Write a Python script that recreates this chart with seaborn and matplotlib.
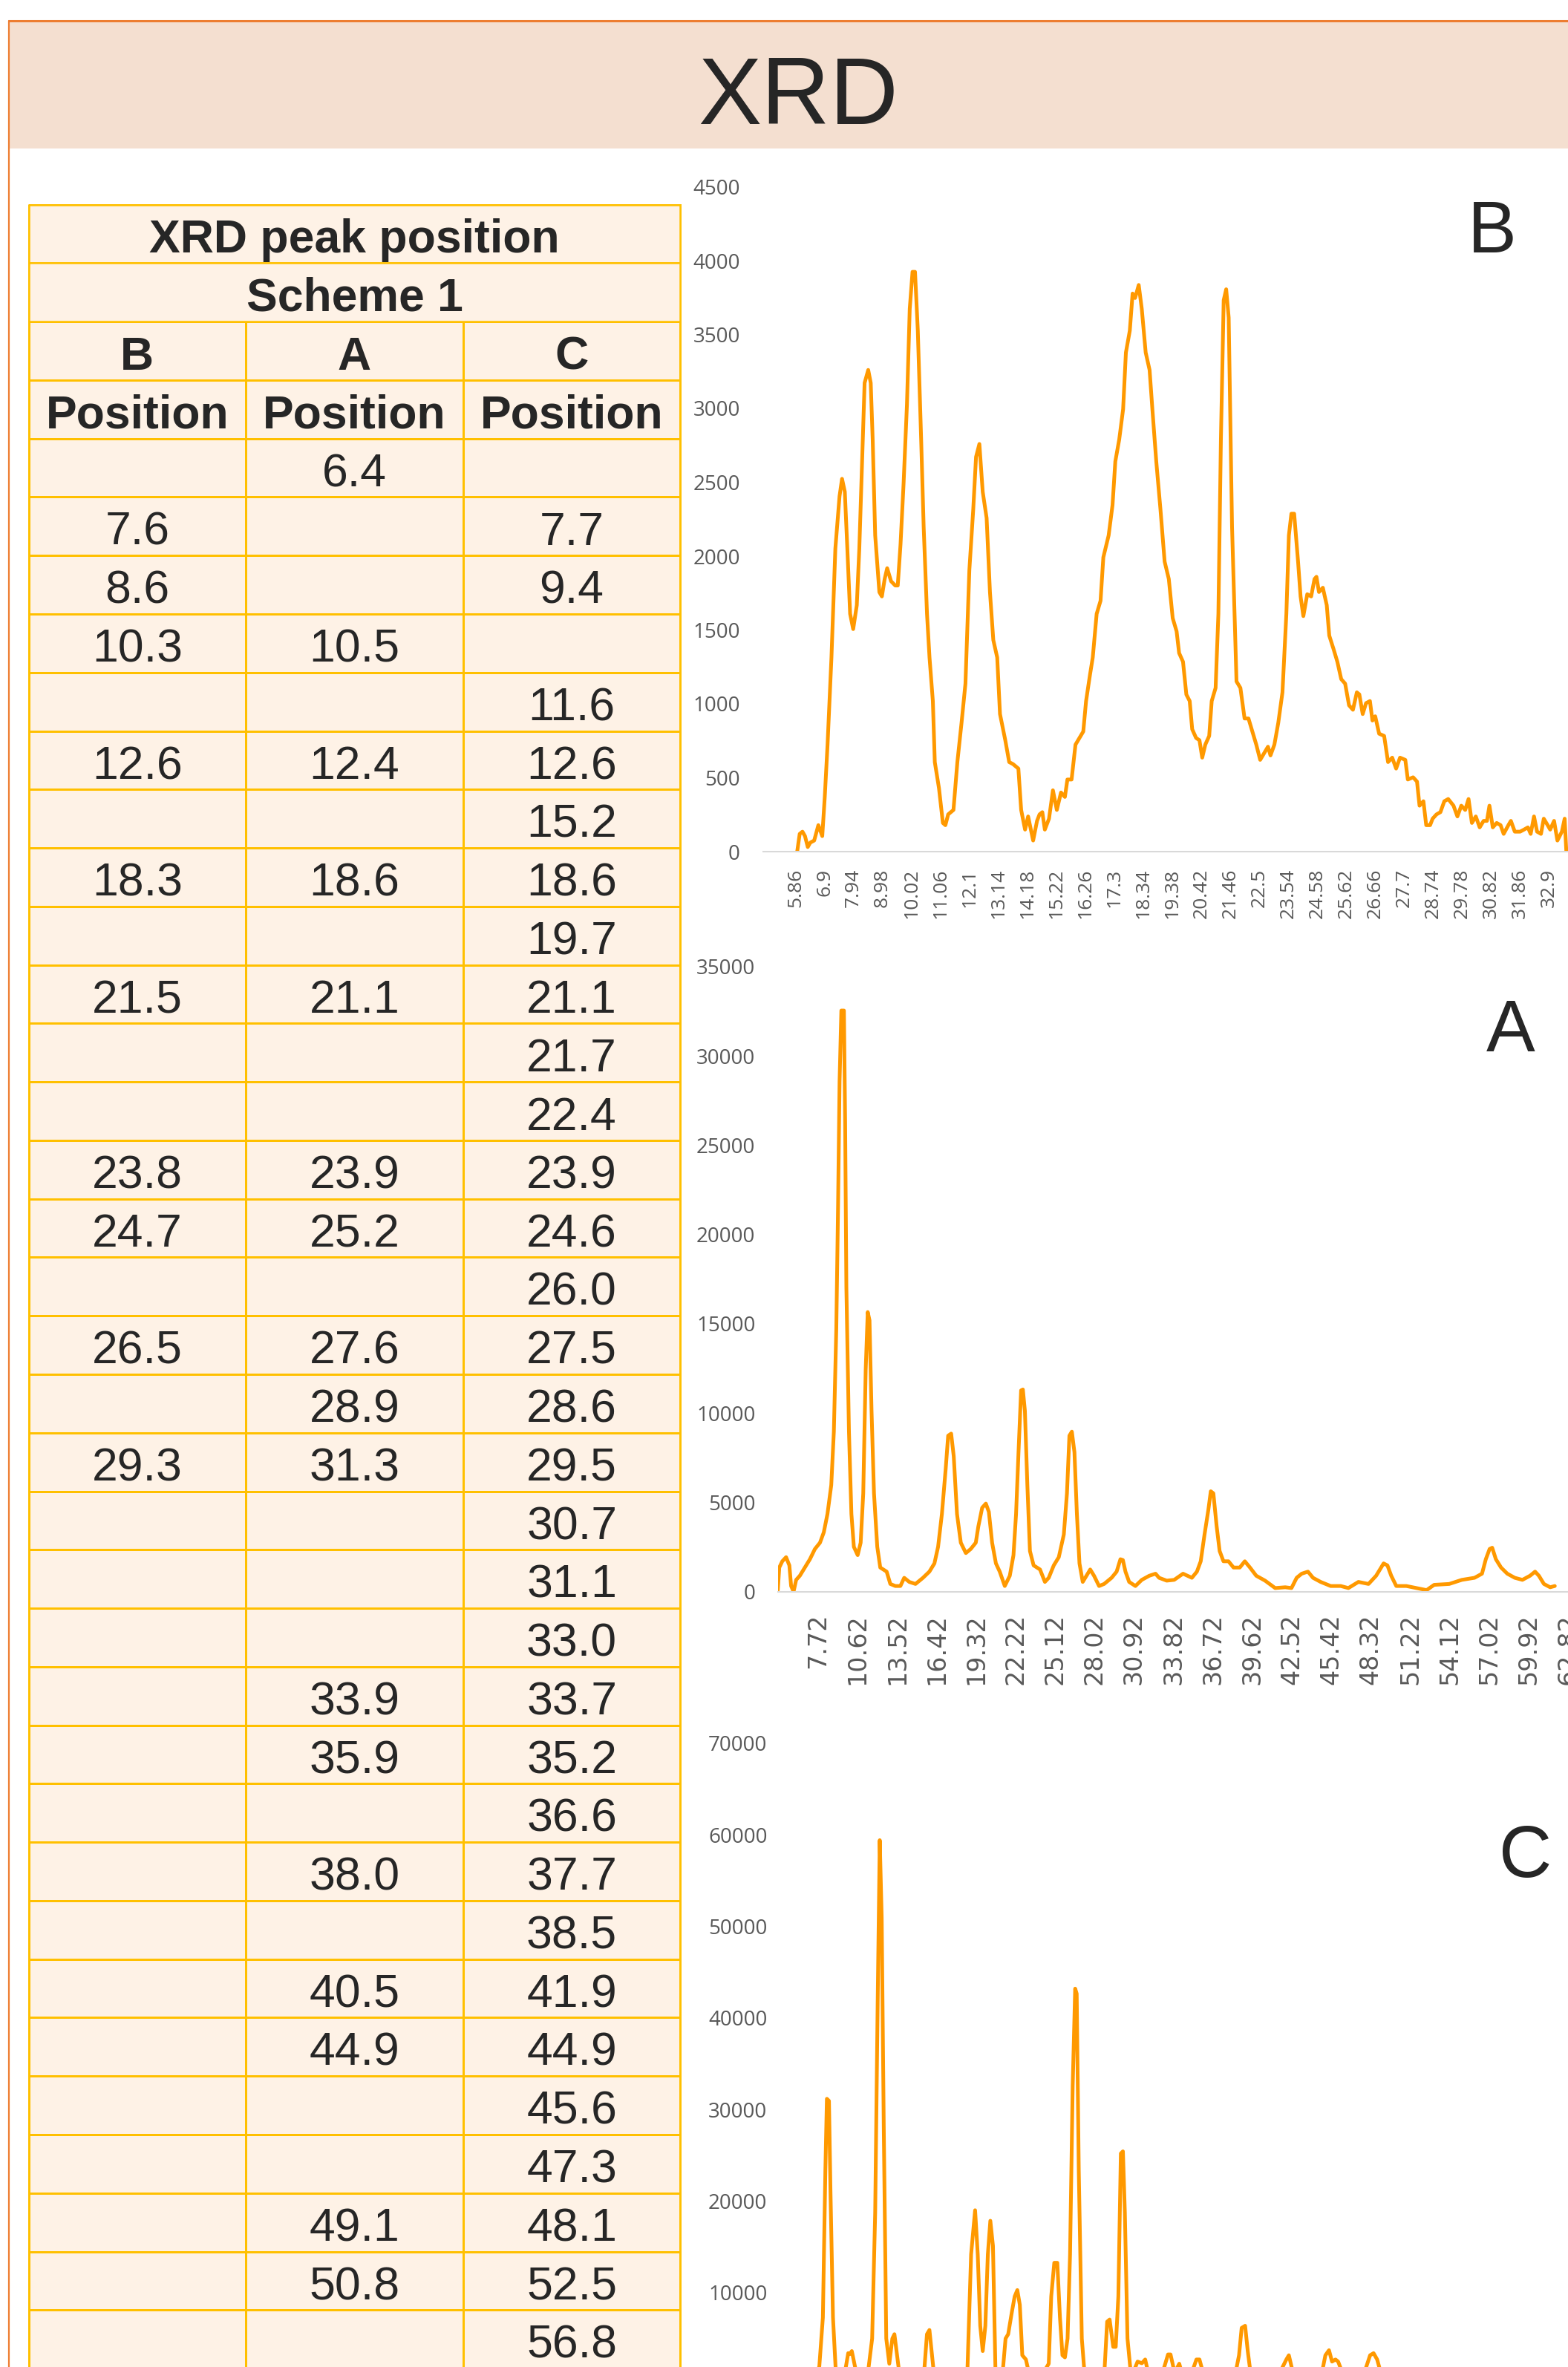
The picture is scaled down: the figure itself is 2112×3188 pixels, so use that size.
"""
XRD poster panel: peak-position table (Scheme 1) next to the three
diffractograms B, A and C.

Output: out.png (2112 x 3188 px)
"""

import matplotlib
matplotlib.use("Agg")
import matplotlib.pyplot as plt
import numpy as np
import seaborn as sns
from matplotlib.colors import ListedColormap
from matplotlib.patches import Rectangle

OUT_PNG = "out.png"
W, H, DPI = 2112, 3188, 100

# ── Table data ────────────────────────────────────────────────────────────────
TABLE_TITLE = "XRD peak position"
TABLE_SUBTITLE = "Scheme 1"
SAMPLES = ["B", "A", "C"]
COL_HEADER = "Position"
nan = np.nan
pos_b = [nan, 7.6, 8.6, 10.3, nan, 12.6, nan, 18.3, nan, 21.5, nan, nan,
         23.8, 24.7, nan, 26.5, nan, 29.3, nan, nan, nan, nan, nan, nan,
         nan, nan, nan, nan, nan, nan, nan, nan, nan]
pos_a = [6.4, nan, nan, 10.5, nan, 12.4, nan, 18.6, nan, 21.1, nan, nan,
         23.9, 25.2, nan, 27.6, 28.9, 31.3, nan, nan, nan, 33.9, 35.9, nan,
         38.0, nan, 40.5, 44.9, nan, nan, 49.1, 50.8, nan]
pos_c = [nan, 7.7, 9.4, nan, 11.6, 12.6, 15.2, 18.6, 19.7, 21.1, 21.7, 22.4,
         23.9, 24.6, 26.0, 27.5, 28.6, 29.5, 30.7, 31.1, 33.0, 33.7, 35.2, 36.6,
         37.7, 38.5, 41.9, 44.9, 45.6, 47.3, 48.1, 52.5, 56.8]

# ── Pattern B (2theta, counts) ────────────────────────────────────────────────
b_two_theta = [
    5.92, 6.01, 6.11, 6.20, 6.30, 6.39, 6.53, 6.68, 6.82, 6.91,
    7.01, 7.15, 7.29, 7.44, 7.53, 7.63, 7.72, 7.82, 7.93, 8.06,
    8.15, 8.25, 8.34, 8.47, 8.56, 8.63, 8.72, 8.87, 8.96, 9.06,
    9.15, 9.29, 9.44, 9.53, 9.63, 9.74, 9.86, 9.96, 10.06, 10.15,
    10.25, 10.37, 10.46, 10.58, 10.67, 10.79, 10.86, 11.01, 11.15, 11.24,
    11.34, 11.53, 11.67, 11.82, 11.96, 12.10, 12.24, 12.34, 12.46, 12.58,
    12.72, 12.84, 12.96, 13.10, 13.20, 13.39, 13.53, 13.67, 13.86, 13.96,
    14.10, 14.21, 14.39, 14.53, 14.62, 14.72, 14.81, 14.96, 15.10, 15.24,
    15.39, 15.53, 15.62, 15.77, 15.91, 16.05, 16.19, 16.29, 16.43, 16.53,
    16.67, 16.81, 16.91, 17.10, 17.24, 17.34, 17.48, 17.62, 17.72, 17.86,
    17.96, 18.05, 18.18, 18.29, 18.43, 18.57, 18.67, 18.81, 18.96,
    19.11, 19.26, 19.40, 19.54, 19.63, 19.77, 19.89, 20.01, 20.10, 20.24,
    20.36, 20.46, 20.57, 20.71, 20.80, 20.94, 21.04, 21.13, 21.23, 21.32,
    21.41, 21.53, 21.62, 21.69, 21.83, 21.98, 22.12, 22.26, 22.40, 22.54,
    22.68, 22.82, 22.91, 23.05, 23.19, 23.34, 23.48, 23.57, 23.66, 23.76,
    23.90, 23.99, 24.09, 24.23, 24.37, 24.49, 24.56, 24.65, 24.79, 24.93,
    25.02, 25.17, 25.31, 25.45, 25.59, 25.73, 25.87, 26.01, 26.10, 26.22,
    26.34, 26.48, 26.57, 26.67, 26.81, 26.99, 27.13, 27.28, 27.42, 27.56,
    27.75, 27.84, 28.03, 28.17, 28.26, 28.40, 28.50, 28.64, 28.73, 28.87,
    29.01, 29.15, 29.29, 29.48, 29.62, 29.76, 29.90, 30.02, 30.14, 30.28,
    30.42, 30.56, 30.68, 30.77, 30.89, 31.03, 31.17, 31.28, 31.45, 31.54,
    31.68, 31.87, 32.01, 32.15, 32.25, 32.37, 32.48, 32.62, 32.72, 32.86,
    32.95, 33.09, 33.21, 33.37, 33.47, 33.53,
]
b_counts = [
    0, 120, 135, 105, 31, 61, 75, 179, 105, 370,
    724, 1314, 2051, 2405, 2523, 2435, 2051, 1609, 1506, 1668,
    2051, 2641, 3172, 3260, 3172, 2789, 2140, 1756, 1727, 1845,
    1918, 1830, 1801, 1801, 2081, 2494, 3025, 3673, 3924, 3924,
    3526, 2789, 2199, 1609, 1314, 1019, 606, 429, 194, 179,
    252, 282, 606, 872, 1137, 1904, 2317, 2671, 2759, 2435,
    2258, 1756, 1432, 1314, 931, 754, 606, 592, 562, 282,
    149, 238, 75, 208, 252, 267, 149, 223, 415, 282,
    400, 370, 488, 488, 724, 769, 813, 1019, 1196, 1314,
    1609, 1698, 1992, 2140, 2346, 2641, 2789, 2995, 3378, 3526,
    3777, 3747, 3835, 3673, 3378, 3260, 2995, 2641, 2317,
    1963, 1845, 1580, 1491, 1344, 1285, 1063, 1019, 828, 769,
    754, 636, 724, 783, 1019, 1108, 1609, 2789, 3732, 3806,
    3614, 2199, 1609, 1152, 1108, 901, 901, 813, 724, 621,
    665, 710, 651, 724, 872, 1078, 1609, 2140, 2287, 2287,
    1963, 1727, 1594, 1742, 1727, 1845, 1860, 1757, 1786, 1668,
    1462, 1373, 1285, 1167, 1137, 990, 960, 1078, 1064, 931,
    1005, 1019, 887, 916, 798, 783, 606, 636, 562, 636,
    621, 488, 503, 474, 311, 341, 179, 179, 223, 252,
    267, 341, 356, 311, 238, 311, 282, 356, 194, 238,
    164, 208, 208, 311, 164, 194, 179, 120, 179, 208,
    135, 135, 149, 164, 120, 238, 135, 120, 223, 179,
    149, 208, 75, 135, 223, 0,
]
b_tick_labels = ["5.86", "6.9", "7.94", "8.98", "10.02", "11.06", "12.1",
                 "13.14", "14.18", "15.22", "16.26", "17.3", "18.34", "19.38",
                 "20.42", "21.46", "22.5", "23.54", "24.58", "25.62", "26.66",
                 "27.7", "28.74", "29.78", "30.82", "31.86", "32.9"]
b_yticks = [0, 500, 1000, 1500, 2000, 2500, 3000, 3500, 4000, 4500]

# ── Pattern A ─────────────────────────────────────────────────────────────────
a_two_theta = [
    4.75, 4.86, 5.08, 5.36, 5.60, 5.73, 5.91, 6.10, 6.37, 6.74,
    7.11, 7.48, 7.85, 8.13, 8.40, 8.68, 8.87, 9.05, 9.18, 9.29,
    9.42, 9.61, 9.70, 9.79, 9.98, 10.16, 10.34, 10.62, 10.84, 11.03,
    11.21, 11.36, 11.49, 11.64, 11.82, 12.06, 12.28, 12.75, 13.02, 13.39,
    13.76, 14.04, 14.41, 14.87, 15.42, 15.89, 16.26, 16.53, 16.81, 17.09,
    17.27, 17.49, 17.68, 17.92, 18.20, 18.57, 18.93, 19.30, 19.49, 19.77,
    20.04, 20.26, 20.50, 20.78, 21.06, 21.43, 21.80, 22.07, 22.26, 22.44,
    22.63, 22.76, 22.91, 23.09, 23.28, 23.55, 24.02, 24.38, 24.66, 25.03,
    25.40, 25.77, 26.00, 26.18, 26.36, 26.55, 26.73, 26.92, 27.16, 27.43,
    27.71, 27.99, 28.36, 28.73, 29.28, 29.65, 29.93, 30.11, 30.30, 30.57,
    31.03, 31.50, 32.05, 32.51,
    32.77, 33.33, 33.88, 34.53, 35.18, 35.55, 35.83, 36.11, 36.39, 36.57,
    36.76, 37.00, 37.22, 37.50, 37.87, 38.24, 38.70, 39.07, 39.45, 39.91,
    40.56, 41.30, 42.04, 42.50, 42.88, 43.25, 43.71, 44.08, 44.64, 45.38,
    46.12, 46.68, 47.42, 48.16, 48.72, 49.27, 49.55, 49.83, 50.20, 50.94,
    51.68, 52.43, 52.98, 54.09, 55.02, 55.95, 56.50, 56.78, 57.06, 57.25,
    57.52, 57.90, 58.36, 58.91, 59.47, 60.03, 60.40, 60.68, 61.05, 61.51,
    61.85,
]
a_counts = [
    80, 1350, 1700, 1930, 1470, 315, 0, 660, 890, 1350,
    1815, 2390, 2740, 3320, 4350, 5970, 8960, 14730, 21650, 28575,
    32544, 32544, 26270, 17040, 8960, 4350, 2510, 2045, 2740, 5505,
    12427, 15657, 15195, 10120, 5505, 2510, 1350, 1120, 430, 315,
    315, 775, 545, 430, 775, 1120, 1580, 2510, 4350, 6890,
    8735, 8850, 7580, 4350, 2740, 2160, 2390, 2740, 3660, 4700,
    4930, 4470, 2740, 1580, 1120, 315, 890, 2045, 4350, 7810,
    11270, 11320, 10120, 5970, 2275, 1470, 1240, 545, 775, 1470,
    1930, 3200, 5505, 8735, 8960, 7810, 4350, 1580, 545, 890,
    1240, 890, 315, 430, 775, 1120, 1815, 1770, 1120, 545,
    315, 660, 890, 1005,
    775, 615, 660, 1005, 775, 1120, 1700, 3200, 4580, 5620,
    5505, 3660, 2275, 1700, 1700, 1350, 1350, 1700, 1350, 890,
    615, 200, 245, 200, 775, 1005, 1120, 775, 545, 315,
    315, 200, 545, 430, 890, 1580, 1470, 890, 315, 315,
    200, 85, 380, 430, 660, 775, 1005, 1815, 2390, 2460,
    1815, 1350, 1005, 775, 660, 890, 1120, 890, 430, 245,
    315,
]
a_tick_labels = ["7.72", "10.62", "13.52", "16.42", "19.32", "22.22", "25.12",
                 "28.02", "30.92", "33.82", "36.72", "39.62", "42.52", "45.42",
                 "48.32", "51.22", "54.12", "57.02", "59.92", "62.82"]
a_yticks = [0, 5000, 10000, 15000, 20000, 25000, 30000, 35000]

# ── Pattern C ─────────────────────────────────────────────────────────────────
c_two_theta = [
    4.80, 6.60, 6.89, 7.15, 7.33, 7.44, 7.59, 7.70, 7.88, 8.07,
    8.40, 8.80, 8.98, 9.10, 9.24, 9.53, 10.00, 10.45, 10.71, 10.93,
    11.11, 11.26, 11.40, 11.55, 11.73, 11.95, 12.17, 12.32, 12.47, 12.65,
    13.50, 14.49, 14.67, 14.85, 15.15, 16.40, 17.60, 17.86, 18.15, 18.34,
    18.52, 18.70, 18.89, 19.07, 19.25, 19.44, 19.62, 20.00, 20.17, 20.35,
    20.54, 20.79, 21.01, 21.20, 21.38, 21.56, 21.82, 22.00, 22.60, 23.29,
    23.47, 23.65, 23.87, 24.09, 24.28, 24.46, 24.64, 24.83, 25.01, 25.20,
    25.38, 25.49, 25.64, 25.86, 26.04, 26.80, 27.51, 27.69, 27.87, 28.13,
    28.31, 28.50, 28.68, 28.83, 28.97, 29.16, 29.38, 29.55, 29.71, 29.89,
    30.20, 30.44, 30.62, 31.20, 31.80, 32.09, 32.27, 32.53, 32.75, 32.90,
    33.04, 33.50, 33.93, 34.14, 34.36, 34.58, 35.80, 37.04, 37.22, 37.41,
    37.66, 37.85, 38.03, 39.20, 40.34, 40.64, 40.82, 41.08, 42.20, 43.28,
    43.46, 43.72, 43.94, 44.19, 44.38, 44.63, 45.50, 46.39, 46.69, 46.94,
    47.20, 47.42, 49.00, 52.00, 56.00, 61.00,
]
c_counts = [
    1000, 1200, 1900, 7300, 23370, 31180, 30950, 21080, 7300, 1800,
    1100, 1800, 3400, 3300, 3630, 1500, 1100, 1800, 5000, 18780,
    41740, 59420, 50930, 27970, 5000, 2250, 5000, 5470, 3630, 1500,
    1000, 1800, 5470, 5930, 1500, 900, 1800, 14190, 19010, 14190,
    6390, 3630, 6390, 14190, 17860, 15110, 1500, 1000, 1800, 5000,
    5470, 7760, 9600, 10290, 8680, 3170, 2710, 1500, 900, 1800,
    2250, 9600, 13270, 13270, 7300, 3170, 2940, 5000, 14190, 32560,
    43210, 42660, 23370, 5000, 1500, 900, 1800, 6840, 7070, 4090,
    4090, 9600, 25210, 25440, 18780, 5000, 1500, 1200, 1800, 2480,
    2300, 2710, 1500, 900, 1800, 3260, 3260, 1500, 1800, 2250,
    1500, 1000, 1800, 2710, 2710, 1500, 800, 1800, 3170, 6160,
    6390, 3630, 1500, 800, 1800, 2710, 3170, 1500, 800, 1800,
    3170, 3720, 2480, 2710, 2480, 1500, 800, 1800, 3170, 3400,
    2710, 1500, 800, 700, 800, 600,
]
c_yticks = [0, 10000, 20000, 30000, 40000, 50000, 60000, 70000]

# ── Styling ───────────────────────────────────────────────────────────────────
LINE = "#FF9900"
TICK_GRAY = "#595959"
AXIS_GRAY = "#D9D9D9"
FRAME = "#ED7D31"
BANNER = "#F4DFD0"
TABLE_FILL = "#FEF2E6"
TABLE_LINE = "#FFC000"
ROW_H = 78.77


def px_rect(left, top, right, bottom):
    """Pixel box (origin top-left) -> figure fraction rect."""
    return [left / W, 1 - bottom / H, (right - left) / W, (bottom - top) / H]


def draw_pattern(fig, rect, x, y, xlim, ylim, yticks, xticks, xlabels,
                 xfont, xsize, xpad):
    ax = fig.add_axes(rect)
    ax.set_facecolor("none")
    sns.lineplot(x=x, y=y, ax=ax, color=LINE, linewidth=3.6,
                 estimator=None, sort=False, solid_joinstyle="round")
    ax.set_xlim(*xlim)
    ax.set_ylim(*ylim)
    ax.set_xlabel("")
    ax.set_ylabel("")
    ax.grid(False)

    ax.set_yticks(yticks)
    ax.set_yticklabels([str(v) for v in yticks], family="Open Sans",
                       fontsize=20, color=TICK_GRAY)
    ax.set_xticks(xticks)
    ax.set_xticklabels(xlabels, rotation=90, family=xfont,
                       fontsize=xsize, color=TICK_GRAY)
    ax.tick_params(axis="y", length=0, pad=22)
    ax.tick_params(axis="x", length=0, pad=xpad)

    sns.despine(ax=ax, left=True)
    ax.spines["bottom"].set_color(AXIS_GRAY)
    ax.spines["bottom"].set_linewidth(1.5)
    return ax


def main():
    sns.set_theme(style="white")
    plt.rcParams["font.family"] = ["Liberation Sans", "DejaVu Sans"]

    fig = plt.figure(figsize=(W / DPI, H / DPI), dpi=DPI)
    fig.patch.set_facecolor("white")

    # ── Banner and frame ─────────────────────────────────────────────────────
    bg = fig.add_axes([0, 0, 1, 1])
    bg.set_xlim(0, W)
    bg.set_ylim(H, 0)
    bg.axis("off")
    bg.add_patch(Rectangle((12, 28), W - 12, 172, facecolor=BANNER,
                           edgecolor="none"))
    bg.axhline(28, xmin=12 / W, xmax=1, color=FRAME, lw=2.2)
    bg.axvline(12, ymin=0, ymax=1 - 28 / H, color=FRAME, lw=1.6)
    bg.text(1075, 167, "XRD", ha="center", va="baseline", fontsize=92)

    # ── Peak-position table ──────────────────────────────────────────────────
    columns = [pos_b, pos_a, pos_c]
    n_rows = 4 + len(pos_c)
    tab = fig.add_axes(px_rect(38.5, 275.6, 916.4, 275.6 + n_rows * ROW_H))
    sns.heatmap(np.ones((n_rows, len(SAMPLES))), ax=tab,
                cmap=ListedColormap([TABLE_FILL]), cbar=False,
                linewidths=1.8, linecolor=TABLE_LINE,
                xticklabels=False, yticklabels=False)
    tab.collections[0].set_clip_on(False)

    base = 64.5 / ROW_H   # baseline offset inside a row
    for r, label in enumerate([TABLE_TITLE, TABLE_SUBTITLE]):
        tab.add_patch(Rectangle((0, r), 3, 1, facecolor=TABLE_FILL,
                                edgecolor=TABLE_LINE, linewidth=1.8,
                                clip_on=False, zorder=3))
        tab.text(1.5, r + base, label, ha="center", va="baseline",
                 fontsize=45, fontweight="bold", zorder=4)
    for c, name in enumerate(SAMPLES):
        tab.text(c + 0.5, 2 + base, name, ha="center", va="baseline",
                 fontsize=45, fontweight="bold", zorder=4)
        tab.text(c + 0.5, 3 + base, COL_HEADER, ha="center", va="baseline",
                 fontsize=45, fontweight="bold", zorder=4)
        for i, v in enumerate(columns[c]):
            if np.isnan(v):
                continue
            tab.text(c + 0.5, 4 + i + base, f"{v:.1f}", ha="center",
                     va="baseline", fontsize=45, zorder=4)

    # ── Diffractograms ───────────────────────────────────────────────────────
    draw_pattern(fig, px_rect(1027.5, 251.5, W, 1147), b_two_theta, b_counts,
                 (4.687, 33.59), (0, 4500), b_yticks,
                 [float(s) for s in b_tick_labels], b_tick_labels,
                 "Open Sans", 19, 16.5)
    draw_pattern(fig, px_rect(1048, 1302, W, 2143.7), a_two_theta, a_counts,
                 (4.77, 61.85), (0, 35000), a_yticks,
                 [float(s) for s in a_tick_labels], a_tick_labels,
                 "DejaVu Sans", 24, 21)
    draw_pattern(fig, px_rect(1064, 2348, W, 3211.3), c_two_theta, c_counts,
                 (4.77, 60.99), (0, 70000), c_yticks, [], [],
                 "DejaVu Sans", 24, 21)

    for label, (px, py) in zip(["B", "A", "C"],
                               [(2010, 340), (2035, 1416), (2055, 2528)]):
        bg.text(px, py, label, ha="center", va="baseline", fontsize=71,
                zorder=5)

    fig.savefig(OUT_PNG, dpi=DPI)
    plt.close(fig)


if __name__ == "__main__":
    main()
